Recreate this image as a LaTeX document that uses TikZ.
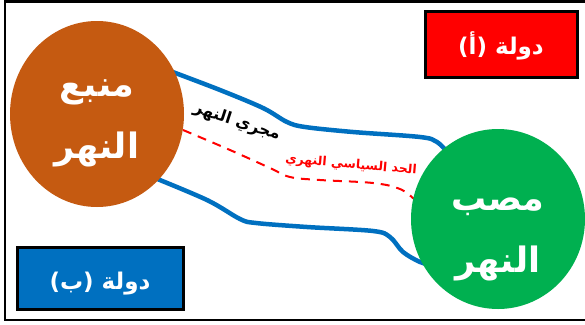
\documentclass[tikz,border=0pt]{standalone}
\usepackage{fontspec}
\usetikzlibrary{shapes.geometric}
\TeXXeTstate=1
\newfontfamily\arabicfont[Script=Arabic]{DejaVu Sans}
\definecolor{srcbrown}{HTML}{C55A11}
\definecolor{mouthgreen}{HTML}{00B050}
\definecolor{statered}{HTML}{FF0000}
\definecolor{stateblue}{HTML}{0070C0}
\tikzset{
  bank/.style={draw=stateblue, line width=4.5pt, line cap=round},
  border/.style={draw=statered, line width=2pt, dash pattern=on 9pt off 7pt},
  blob/.style={ellipse, inner sep=0pt, text=white, align=center,
    font=\arabicfont\bfseries\fontsize{35}{62}\selectfont},
  statebox/.style={draw=black, line width=2.5pt, inner sep=0pt, text=white,
    font=\arabicfont\bfseries\fontsize{23}{28}\selectfont},
}
\begin{document}
\begin{tikzpicture}[x=1pt,y=-1pt]
\useasboundingbox (0,0) rectangle (585,324);
\fill[white] (0,0) rectangle (585,324);
\begin{scope}
\clip (0,0) rectangle (585,324);
\draw[line width=2.2pt] (5,1.5) rectangle (600,320);
\end{scope}
% river banks
\draw[bank] plot[smooth, tension=0.55] coordinates {(170,71) (220,90) (263,108) (287,122) (305,127) (353,132) (420,137) (437,142) (449,154)};
\draw[bank] plot[smooth, tension=0.55] coordinates {(150,176) (207,200) (240,219) (256,223) (307,227) (373,231) (390,237) (403,252) (420,262) (432,265)};
% political border
\draw[border] plot[smooth, tension=0.6] coordinates {(183,130) (230,150) (270,168) (290,177) (320,180) (373,183) (400,189) (415,200)};
% circles
\node[blob, fill=srcbrown, minimum width=174pt, minimum height=186pt] (src) at (97,114) {};
\node[blob] (srctext) at (97,123) {\beginR منبع\endR\\\beginR النهر\endR};
\node[blob, fill=mouthgreen, minimum width=174pt, minimum height=180pt] (mouth) at (498,219) {};
\node[blob] (mouthtext) at (498,239) {\beginR مصب\endR\\\beginR النهر\endR};
% labels
\node[font=\arabicfont\bfseries\fontsize{16}{18}\selectfont, rotate=-18] (course) at (237,122) {\beginR مجري النهر\endR};
\node[font=\arabicfont\bfseries\fontsize{12.5}{16}\selectfont, text=statered, rotate=-5] (borderlbl) at (351,165) {\beginR الحد السياسي النهري\endR};
% state boxes
\node[statebox, fill=statered, minimum width=152pt, minimum height=66pt] (stateA) at (501.5,44.5) {};
\node[statebox, draw=none] (stateAtext) at (501,46) {\beginR دولة (أ)\endR};
\node[statebox, fill=stateblue, minimum width=166pt, minimum height=62pt] (stateB) at (100.5,278.5) {};
\node[statebox, draw=none] (stateBtext) at (100,284) {\beginR دولة (ب)\endR};
\end{tikzpicture}
\end{document}
